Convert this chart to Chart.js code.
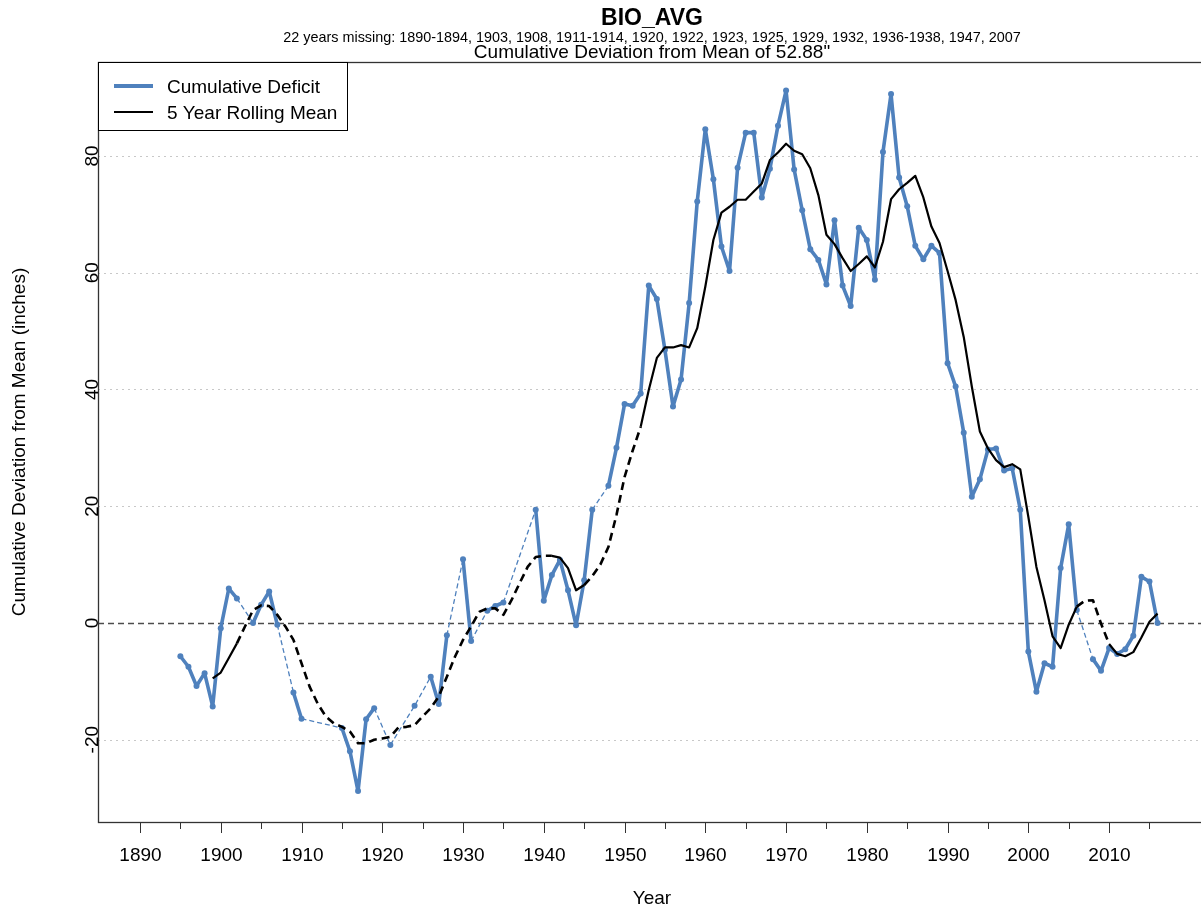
<!DOCTYPE html>
<html>
<head>
<meta charset="utf-8">
<title>BIO_AVG</title>
<script src="https://cdn.jsdelivr.net/npm/chart.js@4.4.1/dist/chart.umd.min.js"></script>
<style>
    html, body { margin: 0; padding: 0; background: #fff; overflow: hidden; }
    #wrap { width: 1210px; height: 911px; }
</style>
</head>
<body>
<div id="wrap"><canvas id="chart" width="1210" height="911"></canvas></div>
<script>
/* ==========================================
   Data
========================================== */

const siteName = "BIO_AVG";
const missingNote = "22 years missing: 1890-1894, 1903, 1908, 1911-1914, 1920, 1922, 1923, 1925, 1929, 1932, 1936-1938, 1947, 2007";
const meanInches = "52.88";

// cumulative deficit, one value per year from 1895 (null = missing year)
const deficitStart = 1895;
const deficit = [
    -5.7, -7.5, -10.8, -8.6, -14.3,                      // 1895-1899
    -0.9, 5.9, 4.2, null, 0.0, 3.1, 5.4, -0.3, null, -11.9, // 1900-1909
    -16.4, null, null, null, null, -18.0, -22.0, -28.8, -16.5, -14.6, // 1910-1919
    null, -20.9, null, null, -14.2, null, -9.2, -13.9, -2.1, null, // 1920-1929
    10.9, -3.1, null, 2.1, 2.9, 3.5, null, null, null, 19.4, // 1930-1939
    3.8, 8.2, 10.8, 5.6, -0.4, 7.3, 19.4, null, 23.5, 30.0, // 1940-1949
    37.5, 37.2, 39.3, 57.8, 55.5, 46.8, 37.1, 41.7, 54.8, 72.2, // 1950-1959
    84.6, 76.0, 64.5, 60.3, 78.0, 84.0, 84.0, 72.9, 77.8, 85.2, // 1960-1969
    91.2, 77.7, 70.7, 64.0, 62.2, 58.0, 69.0, 57.8, 54.3, 67.7, // 1970-1979
    65.6, 58.8, 80.7, 90.6, 76.3, 71.4, 64.6, 62.3, 64.6, 63.4, // 1980-1989
    44.5, 40.5, 32.6, 21.6, 24.6, 29.7, 29.9, 26.1, 26.5, 19.4, // 1990-1999
    -4.9, -11.8, -6.9, -7.5, 9.4, 16.9, 2.2, null, -6.2, -8.2, // 2000-2009
    -4.3, -5.3, -4.5, -2.2, 7.9, 7.1, 0.0                 // 2010-2016
];

// 5 year rolling mean, one value per year from 1899
const rollingStart = 1899;
const rollingMean = [
    -9.5,                                                   // 1899
    -8.5, -6.0, -3.5, -0.6, 2.2, 3.0, 2.9, 1.4, -0.6, -2.9, // 1900-1909
    -6.9, -10.9, -13.8, -16.0, -17.2, -17.8, -18.6, -20.6, -20.6, -20.0, // 1910-1919
    -19.8, -19.5, -17.9, -17.8, -17.5, -16.0, -14.6, -12.6, -9.2, -5.8, // 1920-1929
    -2.9, -0.6, 1.9, 2.5, 2.5, 1.4, 3.9, 6.8, 9.6, 11.3,    // 1930-1939
    11.5, 11.5, 11.2, 9.4, 5.6, 6.5, 8.0, 10.0, 13.0, 18.5, // 1940-1949
    25.0, 29.5, 33.6, 39.9, 45.4, 47.2, 47.2, 47.6, 47.2, 50.5, // 1950-1959
    57.6, 65.6, 70.3, 71.3, 72.5, 72.5, 73.9, 75.3, 79.3, 80.6, // 1960-1969
    82.1, 80.9, 80.3, 77.9, 73.3, 66.5, 64.9, 62.5, 60.3, 61.5, // 1970-1979
    62.8, 60.9, 65.3, 72.6, 74.3, 75.4, 76.6, 72.9, 67.9, 65.1, // 1980-1989
    60.3, 55.3, 49.0, 40.5, 32.8, 29.9, 27.9, 26.7, 27.2, 26.3, // 1990-1999
    18.2, 9.6, 3.9, -2.3, -4.3, -0.3, 2.8, 3.8, 3.9, -0.1,  // 2000-2009
    -3.6, -5.3, -5.7, -5.0, -2.5, 0.2, 1.6                  // 2010-2016
];

// stretches where the rolling mean leans on missing years (drawn dashed)
const rollingDashedSpans = [[1902, 1941], [1945, 1952], [2006, 2010]];

const xTickYears = [
    1890, 1895, 1900, 1905, 1910, 1915, 1920, 1925, 1930, 1935, 1940, 1945, 1950,
    1955, 1960, 1965, 1970, 1975, 1980, 1985, 1990, 1995, 2000, 2005, 2010, 2015
];
const yTicks = [-20, 0, 20, 40, 60, 80];

/* ==========================================
   Styles
========================================== */

const FONT = '"Liberation Sans", Arial, Helvetica, sans-serif';
const BLUE = "#4f81bd";
const BASE = 19;

const deficitPoints = deficit.map((v, i) => ({ x: deficitStart + i, y: v }));
const rollingPoints = rollingMean.map((v, i) => ({ x: rollingStart + i, y: v }));

function rollingDashed(ctx) {
    const y0 = rollingPoints[ctx.p0DataIndex].x;
    const y1 = rollingPoints[ctx.p1DataIndex].x;
    return rollingDashedSpans.some(s => y0 >= s[0] && y1 <= s[1]);
}

function gapSegment(ctx) {
    return ctx.p0.skip || ctx.p1.skip;
}

/* ==========================================
   R-style frame, ticks, titles and legend
========================================== */

const rPlot = {
    id: "rPlot",

    beforeDatasetsDraw(chart) {
        const { ctx, chartArea: a, scales: { y } } = chart;
        ctx.save();
        yTicks.forEach(function (v) {
            const py = Math.round(y.getPixelForValue(v)) + 0.5;
            ctx.beginPath();
            if (v === 0) {
                ctx.strokeStyle = "#4d4d4d";
                ctx.lineWidth = 1.4;
                ctx.setLineDash([6, 4]);
            } else {
                ctx.strokeStyle = "#c8c8c8";
                ctx.lineWidth = 1;
                ctx.setLineDash([2, 4]);
            }
            ctx.moveTo(a.left, py);
            ctx.lineTo(a.right, py);
            ctx.stroke();
        });
        ctx.restore();
    },

    afterDraw(chart) {
        const { ctx, chartArea: a, scales: { x, y } } = chart;
        const cx = (a.left + a.right) / 2;
        ctx.save();

        // frame
        ctx.strokeStyle = "#333";
        ctx.lineWidth = 1.3;
        ctx.setLineDash([]);
        ctx.strokeRect(a.left + 0.5, a.top + 0.5, a.right - a.left, a.bottom - a.top);

        // x ticks and labels
        ctx.fillStyle = "#000";
        ctx.font = BASE + "px " + FONT;
        ctx.textAlign = "center";
        ctx.textBaseline = "alphabetic";
        xTickYears.forEach(function (yr) {
            const px = Math.round(x.getPixelForValue(yr)) + 0.5;
            const major = yr % 10 === 0;
            ctx.beginPath();
            ctx.lineWidth = 1;
            ctx.strokeStyle = "#333";
            ctx.moveTo(px, a.bottom);
            ctx.lineTo(px, a.bottom + (major ? 11 : 7));
            ctx.stroke();
            if (major) ctx.fillText(String(yr), px, 861);
        });
        ctx.fillText("Year", cx, 904);

        // y labels, rotated like R
        yTicks.forEach(function (v) {
            const py = y.getPixelForValue(v);
            ctx.save();
            ctx.translate(97.5, py);
            ctx.rotate(-Math.PI / 2);
            ctx.fillText(String(v), 0, 0);
            ctx.restore();
        });
        ctx.save();
        ctx.translate(25, (a.top + a.bottom) / 2);
        ctx.rotate(-Math.PI / 2);
        ctx.fillText("Cumulative Deviation from Mean (inches)", 0, 0);
        ctx.restore();

        // titles
        ctx.font = "bold 23px " + FONT;
        ctx.fillText(siteName, cx, 25);
        ctx.font = "14.4px " + FONT;
        ctx.fillText(missingNote, cx, 41.5);
        ctx.font = BASE + "px " + FONT;
        ctx.fillText("Cumulative Deviation from Mean of " + meanInches + "\"", cx, 58);

        // legend
        ctx.fillStyle = "#fff";
        ctx.fillRect(a.left, a.top, 249, 68);
        ctx.strokeStyle = "#000";
        ctx.lineWidth = 1;
        ctx.strokeRect(a.left + 0.5, a.top + 0.5, 249, 68);
        ctx.lineCap = "butt";
        ctx.beginPath();
        ctx.strokeStyle = BLUE;
        ctx.lineWidth = 4;
        ctx.moveTo(114, 86);
        ctx.lineTo(153, 86);
        ctx.stroke();
        ctx.beginPath();
        ctx.strokeStyle = "#000";
        ctx.lineWidth = 2.2;
        ctx.moveTo(114, 112);
        ctx.lineTo(153, 112);
        ctx.stroke();
        ctx.fillStyle = "#000";
        ctx.textAlign = "left";
        ctx.fillText("Cumulative Deficit", 167, 93);
        ctx.fillText("5 Year Rolling Mean", 167, 119);

        ctx.restore();
    }
};

/* ==========================================
   Chart
========================================== */

document.addEventListener("DOMContentLoaded", function () {

    new Chart(document.getElementById("chart"), {

        type: "line",

        data: {
            datasets: [
                {
                    label: "5 Year Rolling Mean",
                    data: rollingPoints,
                    order: 0,
                    borderColor: "#000",
                    borderWidth: 2.2,
                    pointRadius: 0,
                    tension: 0,
                    borderJoinStyle: "round",
                    segment: {
                        borderDash: ctx => rollingDashed(ctx) ? [8, 5] : undefined,
                        borderWidth: ctx => rollingDashed(ctx) ? 2.6 : undefined
                    }
                },
                {
                    label: "Cumulative Deficit",
                    data: deficitPoints,
                    order: 1,
                    spanGaps: true,
                    borderColor: BLUE,
                    borderWidth: 3.6,
                    borderJoinStyle: "round",
                    pointRadius: 3,
                    pointBorderWidth: 0,
                    pointBackgroundColor: BLUE,
                    tension: 0,
                    segment: {
                        borderDash: ctx => gapSegment(ctx) ? [5, 3] : undefined,
                        borderWidth: ctx => gapSegment(ctx) ? 1.3 : undefined
                    }
                }
            ]
        },

        options: {
            responsive: false,
            animation: false,
            devicePixelRatio: 1,
            layout: {
                padding: { left: 98, top: 62, right: 4, bottom: 89 }
            },
            scales: {
                x: { type: "linear", display: false, min: 1884.8, max: 2022.0 },
                y: { type: "linear", display: false, min: -34.1, max: 96.1 }
            },
            plugins: {
                legend: { display: false },
                title: { display: false },
                tooltip: { enabled: false }
            }
        },

        plugins: [rPlot]

    });

});
</script>
</body>
</html>
